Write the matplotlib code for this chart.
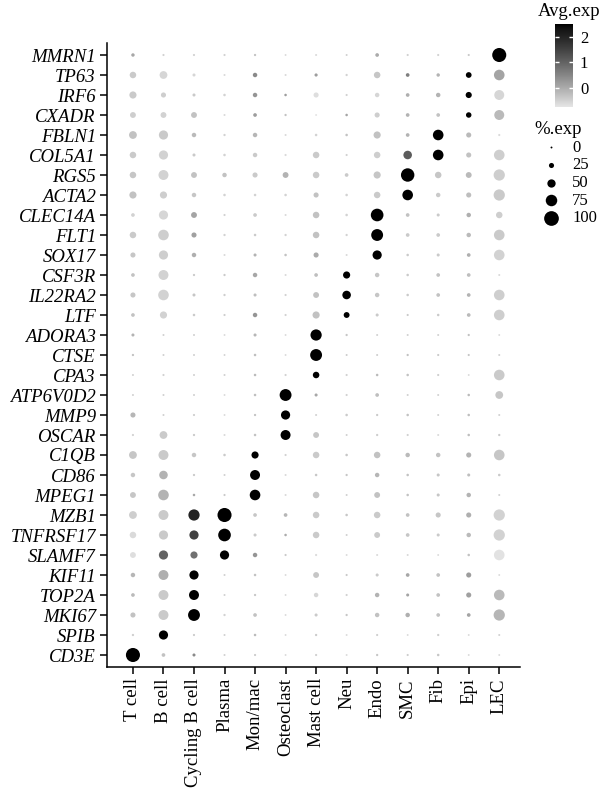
import numpy as np
import matplotlib
matplotlib.use("Agg")
import matplotlib.pyplot as plt
from matplotlib.colors import LinearSegmentedColormap, Normalize

plt.rcParams['font.family'] = ['Liberation Serif', 'DejaVu Serif']

genes = ["MMRN1", "TP63", "IRF6", "CXADR", "FBLN1", "COL5A1", "RGS5", "ACTA2",
         "CLEC14A", "FLT1", "SOX17", "CSF3R", "IL22RA2", "LTF", "ADORA3", "CTSE",
         "CPA3", "ATP6V0D2", "MMP9", "OSCAR", "C1QB", "CD86", "MPEG1", "MZB1",
         "TNFRSF17", "SLAMF7", "KIF11", "TOP2A", "MKI67", "SPIB", "CD3E"]

cell_types = ["T cell", "B cell", "Cycling B cell", "Plasma", "Mon/mac", "Osteoclast",
              "Mast cell", "Neu", "Endo", "SMC", "Fib", "Epi", "LEC"]

# percent of cells expressing (rows = genes, cols = cell types)
pct_exp = [
    [12, 2, 2, 2, 3, 0, 1, 1, 14, 2, 2, 2, 95],      # MMRN1
    [36, 46, 9, 1, 20, 1, 10, 3, 36, 14, 12, 30, 68],  # TP63
    [41, 25, 9, 5, 20, 5, 25, 2, 20, 14, 20, 33, 63],  # IRF6
    [31, 31, 31, 1, 14, 3, 0, 5, 25, 14, 14, 28, 63],  # CXADR
    [46, 57, 20, 3, 20, 1, 5, 5, 41, 14, 68, 25, 2],   # FBLN1
    [36, 57, 9, 5, 20, 2, 36, 2, 36, 52, 68, 25, 68],  # COL5A1
    [36, 63, 31, 20, 25, 31, 36, 14, 41, 90, 36, 31, 73],  # RGS5
    [41, 41, 20, 5, 5, 5, 25, 5, 36, 68, 20, 25, 73],  # ACTA2
    [14, 57, 31, 2, 14, 1, 36, 5, 84, 14, 9, 20, 36],  # CLEC14A
    [36, 68, 25, 3, 5, 3, 36, 3, 78, 14, 14, 20, 68],  # FLT1
    [25, 57, 20, 1, 9, 5, 25, 1, 57, 5, 9, 14, 68],    # SOX17
    [14, 63, 3, 3, 20, 1, 14, 41, 20, 5, 14, 14, 1],   # CSF3R
    [25, 68, 9, 3, 9, 2, 31, 52, 20, 5, 14, 14, 68],   # IL22RA2
    [14, 41, 5, 2, 20, 2, 41, 31, 9, 2, 5, 14, 68],    # LTF
    [9, 1, 1, 0, 9, 0, 73, 3, 1, 1, 1, 3, 0],          # ADORA3
    [3, 1, 1, 0, 5, 0, 78, 1, 1, 3, 2, 2, 1],          # CTSE
    [1, 2, 1, 1, 5, 2, 36, 2, 5, 5, 2, 0, 68],         # CPA3
    [1, 1, 1, 0, 5, 78, 9, 2, 14, 1, 1, 5, 46],        # ATP6V0D2
    [25, 1, 2, 0, 3, 57, 1, 5, 3, 5, 1, 5, 1],         # MMP9
    [2, 46, 3, 1, 5, 63, 31, 1, 3, 2, 1, 5, 3],        # OSCAR
    [46, 63, 20, 5, 41, 2, 36, 5, 36, 20, 20, 25, 68],  # C1QB
    [20, 52, 3, 1, 63, 1, 5, 3, 20, 5, 9, 9, 5],       # CD86
    [31, 68, 5, 2, 68, 1, 36, 1, 31, 5, 9, 20, 1],     # MPEG1
    [46, 63, 73, 95, 14, 14, 36, 5, 36, 14, 25, 25, 73],  # MZB1
    [36, 57, 57, 84, 9, 5, 36, 1, 31, 14, 9, 20, 73],  # TNFRSF17
    [31, 57, 41, 57, 20, 2, 2, 0, 1, 1, 0, 5, 68],     # SLAMF7
    [20, 63, 57, 1, 5, 0, 31, 2, 9, 14, 14, 25, 0],    # KIF11
    [14, 63, 63, 1, 3, 0, 20, 2, 20, 9, 14, 25, 68],   # TOP2A
    [25, 63, 78, 3, 14, 0, 9, 3, 20, 20, 14, 14, 73],  # MKI67
    [3, 57, 2, 1, 5, 0, 3, 0, 2, 0, 3, 0, 1],          # SPIB
    [95, 14, 9, 1, 2, 0, 2, 0, 3, 2, 5, 0, 0],         # CD3E
]

# scaled average expression
avg_exp = [
    [0.05, -0.5, -0.5, -0.5, -0.3, -0.6, -0.6, -0.5, 0.0, -0.5, -0.5, -0.4, 2.5],
    [-0.4, -0.55, -0.55, -0.6, 0.45, -0.6, 0.2, -0.5, -0.35, 0.6, -0.1, 2.5, 0.1],
    [-0.4, -0.45, -0.4, -0.5, 0.3, 0.2, -0.65, -0.5, -0.55, -0.05, -0.1, 2.5, -0.55],
    [-0.45, -0.5, -0.3, -0.6, 0.2, -0.3, -0.7, 0.1, -0.45, -0.1, -0.3, 2.5, -0.2],
    [-0.3, -0.4, -0.2, -0.5, -0.15, -0.6, -0.5, -0.3, -0.3, -0.1, 2.5, -0.2, -0.6],
    [-0.4, -0.5, -0.4, -0.5, -0.4, -0.6, -0.4, -0.5, -0.45, 1.1, 2.5, -0.3, -0.45],
    [-0.35, -0.5, -0.3, -0.3, -0.4, -0.1, -0.4, -0.4, -0.35, 2.5, -0.35, -0.2, -0.45],
    [-0.3, -0.45, -0.35, -0.5, -0.5, -0.5, -0.3, -0.5, -0.4, 2.5, -0.4, -0.25, -0.4],
    [-0.5, -0.55, 0.1, -0.5, -0.4, -0.6, -0.3, -0.5, 2.5, -0.3, -0.4, -0.05, -0.45],
    [-0.4, -0.45, 0.15, -0.5, -0.4, -0.5, -0.3, -0.5, 2.5, -0.4, -0.4, -0.2, -0.4],
    [-0.35, -0.45, -0.05, -0.6, -0.1, -0.3, 0.0, -0.6, 2.5, -0.4, -0.4, -0.05, -0.5],
    [-0.3, -0.5, -0.4, -0.4, 0.05, -0.6, -0.25, 2.5, -0.35, -0.4, -0.3, -0.25, -0.6],
    [-0.35, -0.5, -0.35, -0.45, -0.25, -0.5, -0.3, 2.5, -0.35, -0.4, -0.3, -0.1, -0.45],
    [-0.3, -0.5, -0.4, -0.45, 0.3, -0.5, -0.3, 2.5, -0.4, -0.4, -0.4, -0.2, -0.45],
    [-0.1, -0.5, -0.5, -0.6, -0.15, -0.6, 2.5, -0.35, -0.5, -0.5, -0.5, -0.3, -0.6],
    [-0.3, -0.5, -0.5, -0.5, -0.25, -0.6, 2.5, -0.45, -0.45, -0.3, -0.4, -0.35, -0.5],
    [-0.5, -0.5, -0.5, -0.5, -0.2, -0.5, 2.5, -0.5, -0.2, -0.3, -0.45, -0.6, -0.4],
    [-0.5, -0.5, -0.5, -0.6, -0.25, 2.5, 0.05, -0.5, -0.25, -0.5, -0.5, -0.2, -0.35],
    [-0.15, -0.5, -0.45, -0.6, -0.3, 2.5, -0.5, -0.4, -0.4, -0.3, -0.5, -0.25, -0.5],
    [-0.5, -0.4, -0.4, -0.6, -0.3, 2.5, -0.35, -0.5, -0.45, -0.5, -0.6, -0.25, -0.4],
    [-0.35, -0.4, -0.35, -0.4, 2.5, -0.5, -0.4, -0.35, -0.3, -0.2, -0.3, -0.1, -0.35],
    [-0.35, -0.1, -0.4, -0.5, 2.5, -0.6, -0.35, -0.35, -0.15, -0.3, -0.35, -0.25, -0.4],
    [-0.35, -0.1, 0.05, -0.4, 2.5, -0.6, -0.35, -0.5, -0.3, -0.3, -0.35, -0.1, -0.5],
    [-0.45, -0.4, 2.0, 2.5, -0.35, -0.15, -0.4, -0.35, -0.4, -0.3, -0.35, -0.05, -0.5],
    [-0.6, -0.4, 1.5, 2.5, -0.4, 0.0, -0.4, -0.5, -0.4, -0.35, -0.4, -0.2, -0.5],
    [-0.65, 1.0, 0.8, 2.5, 0.3, -0.4, -0.6, -0.6, -0.6, -0.6, -0.6, -0.3, -0.7],
    [-0.15, -0.05, 2.5, -0.5, -0.3, -0.6, -0.35, -0.4, -0.4, 0.05, -0.3, 0.2, -0.6],
    [-0.2, -0.4, 2.5, -0.5, -0.35, -0.6, -0.55, -0.5, -0.1, 0.1, -0.3, 0.15, -0.2],
    [-0.3, -0.4, 2.5, -0.5, -0.3, -0.6, -0.4, -0.35, -0.3, -0.05, -0.3, 0.1, -0.15],
    [-0.45, 2.5, -0.4, -0.5, -0.2, -0.6, -0.4, -0.6, -0.45, -0.6, -0.45, -0.6, -0.5],
    [2.5, -0.3, 0.45, -0.5, -0.4, -0.6, -0.45, -0.6, -0.35, -0.45, -0.35, -0.6, -0.6],
]

size_breaks = [0, 25, 50, 75, 100]
color_ticks = [0, 1, 2]


def lab_grey_cmap(l_start=91.0):
    # grey ramp from light grey to black, linear in CIE L*
    L = np.linspace(l_start, 0, 256)
    Y = np.where(L > 8, ((L + 16) / 116) ** 3, L / 903.3)
    v = np.where(Y > 0.0031308, 1.055 * Y ** (1 / 2.4) - 0.055, 12.92 * Y)
    return LinearSegmentedColormap.from_list("greys", [(g, g, g) for g in v])


def dot_size(p):
    # radius scaling: diameter in px linear in percent, converted to points^2
    d_px = 1.9 + 12.8 * np.asarray(p, dtype=float) / 100
    return (d_px * 72 / 100) ** 2


pct = np.array(pct_exp)
avg = np.array(avg_exp)
xx, yy = np.meshgrid(np.arange(len(cell_types)), np.arange(len(genes)))

cmap = lab_grey_cmap()
norm = Normalize(vmin=-0.75, vmax=2.5)

fig = plt.figure(figsize=(6, 7.92), dpi=100)
ax = fig.add_axes([107 / 600, 1 - 667 / 792, 413 / 600, 624 / 792])

sc = ax.scatter(xx.ravel(), yy.ravel(), s=dot_size(pct.ravel()), c=avg.ravel(),
                cmap=cmap, norm=norm, linewidths=0)

ax.set_xlim(-0.85, 12.68)
ax.set_ylim(len(genes) - 0.4, -0.6)
ax.set_xticks(range(len(cell_types)))
ax.set_xticklabels(cell_types, rotation=90, fontsize=13.5)
ax.set_yticks(range(len(genes)))
ax.set_yticklabels(genes, fontsize=13.5, style='italic')
ax.tick_params(length=5, width=1.1, color='black', pad=3)
for side in ['top', 'right']:
    ax.spines[side].set_visible(False)
for side in ['left', 'bottom']:
    ax.spines[side].set_linewidth(1.1)

# colour bar
cax = fig.add_axes([555 / 600, 1 - 107 / 792, 18 / 600, 83 / 792])
cb = fig.colorbar(sc, cax=cax, ticks=color_ticks)
cb.outline.set_visible(False)
cax.tick_params(direction='in', length=3, color='white', width=1, labelsize=12, pad=5,
                left=True, right=True)
fig.text(538 / 600, 1 - 12 / 792, "Avg.exp", fontsize=13.5, va='center', ha='left')

# size legend
handles = [ax.scatter([], [], s=dot_size(v), color='black', linewidths=0) for v in size_breaks]
leg = fig.legend(handles, [str(v) for v in size_breaks], title="%.exp",
                 loc='upper left', bbox_to_anchor=(534 / 600, 1 - 121 / 792),
                 frameon=False, fontsize=12, title_fontsize=13.5,
                 handletextpad=0.3, labelspacing=0.1, borderaxespad=0, borderpad=0)
leg._legend_box.align = "left"

fig.savefig("out.png", dpi=100)
